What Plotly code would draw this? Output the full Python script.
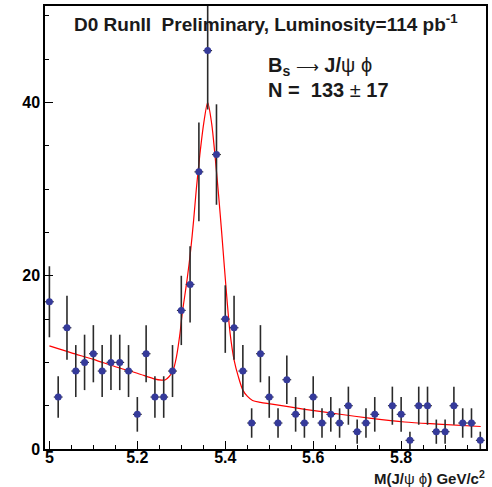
import plotly.graph_objects as go

# ---- data ----
mass = [5.00, 5.02, 5.04, 5.06, 5.08, 5.10, 5.12, 5.14, 5.16, 5.18,
        5.20, 5.22, 5.24, 5.26, 5.28, 5.30, 5.32, 5.34, 5.36, 5.38,
        5.40, 5.42, 5.44, 5.46, 5.48, 5.50, 5.52, 5.54, 5.56, 5.58,
        5.60, 5.62, 5.64, 5.66, 5.68, 5.70, 5.72, 5.74, 5.78, 5.80,
        5.82, 5.84, 5.86, 5.88, 5.90, 5.92, 5.94, 5.96, 5.98]
counts = [17, 6, 14, 9, 10, 11, 9, 10, 10, 9,
          4, 11, 6, 6, 9, 16, 19, 32, 46, 34,
          15, 14, 9, 3, 11, 6, 3, 8, 4, 3,
          6, 3, 4, 3, 5, 2, 3, 4, 5, 4,
          1, 5, 5, 2, 2, 5, 3, 3, 1]
errors = [4.1, 2.4, 3.7, 3.0, 3.2, 3.3, 3.0, 3.2, 3.2, 3.0,
          2.0, 3.3, 2.4, 2.4, 3.0, 4.0, 4.4, 5.7, 6.8, 5.8,
          3.9, 3.7, 3.0, 1.7, 3.3, 2.4, 1.7, 2.8, 2.0, 1.7,
          2.4, 1.7, 2.0, 1.7, 2.2, 1.4, 1.7, 2.0, 2.2, 2.0,
          1.0, 2.2, 2.2, 1.4, 1.4, 2.2, 1.7, 1.7, 1.0]
bin_half_width = [0.01] * len(mass)

# fit curve
fit_x = [5.000, 5.050, 5.100, 5.150, 5.200, 5.238, 5.255, 5.263, 5.272, 5.281,
         5.289, 5.297, 5.302, 5.313, 5.321, 5.328, 5.334, 5.342, 5.351, 5.360,
         5.369, 5.377, 5.385, 5.392, 5.398, 5.404, 5.411, 5.420, 5.430, 5.440,
         5.450, 5.462, 5.480, 5.506, 5.581, 5.657, 5.732, 5.808, 5.883, 5.981]
fit_y = [11.9, 11.1, 10.35, 9.5, 8.75, 8.1, 7.95, 7.97, 8.34, 9.04,
         10.65, 13.35, 15.6, 19.5, 22.8, 26.4, 29.9, 33.9, 37.6, 40.0,
         37.6, 33.7, 29.2, 24.9, 21.0, 17.2, 13.35, 10.3, 8.3, 6.8,
         6.1, 5.6, 5.38, 5.19, 4.58, 4.04, 3.54, 3.12, 2.88, 2.6]

x_ticks = [5.0, 5.2, 5.4, 5.6, 5.8]
x_ticktext = ["5", "5.2", "5.4", "5.6", "5.8"]
y_ticks = [0, 20, 40]
y_ticktext = ["0", "20", "40"]

FONT = "Liberation Sans, Arial, Helvetica, sans-serif"
W, H = 492, 487
L, R, T, B = 45, 4, 6, 38
PW, PH = W - L - R, H - T - B


def px(x):
    return (x - L) / PW


def py(y):
    return 1 - (y - T) / PH


fig = go.Figure()

fig.add_trace(go.Scatter(
    x=fit_x, y=fit_y, mode="lines",
    line=dict(color="#ff0000", width=1.2, shape="spline", smoothing=0.8),
    hoverinfo="skip", showlegend=False,
))

fig.add_trace(go.Scatter(
    x=mass, y=counts, mode="markers",
    marker=dict(color="#353a9a", size=7, symbol="circle"),
    error_y=dict(type="data", array=errors, visible=True, color="#2a2a2a",
                 thickness=1.6, width=0),
    error_x=dict(type="data", array=bin_half_width, visible=True, color="#2a2a2a",
                 thickness=1.2, width=0),
    showlegend=False,
))

axis_common = dict(
    showline=True, linecolor="black", linewidth=1.5, mirror=True,
    ticks="inside", tickcolor="black", tickwidth=1.2, ticklen=8,
    showgrid=False, zeroline=False,
    tickfont=dict(family=FONT, size=16, color="black", weight="bold"),
)

fig.update_xaxes(
    range=[4.99, 5.993], tickmode="array", tickvals=x_ticks, ticktext=x_ticktext,
    ticklabelstandoff=-7,
    minor=dict(ticks="inside", ticklen=4, tickcolor="black", tickwidth=1.2,
               tickmode="linear", tick0=5.0, dtick=0.05, showgrid=False),
    **axis_common,
)
fig.update_yaxes(
    range=[0, 51.15], tickmode="array", tickvals=y_ticks, ticktext=y_ticktext,
    minor=dict(ticks="inside", ticklen=4, tickcolor="black", tickwidth=1.2,
               tickmode="linear", tick0=0, dtick=5, showgrid=False),
    **axis_common,
)

ann_font = dict(family=FONT, color="#1a1a1a", weight="bold")
fig.add_annotation(
    x=px(72), y=py(23), xref="paper", yref="paper", xanchor="left", yanchor="middle",
    text="D0 RunII  Preliminary, Luminosity=114 pb<sup>-1</sup>",
    showarrow=False, font=dict(size=19, **ann_font),
)
fig.add_annotation(
    x=px(267), y=py(67), xref="paper", yref="paper", xanchor="left", yanchor="middle",
    text=("B<sub>s</sub> <span style='font-weight:normal;font-size:16px'>⟶</span> "
          "J/<span style='font-weight:normal'>ψ ϕ</span>"),
    showarrow=False, font=dict(size=20, **ann_font),
)
fig.add_annotation(
    x=px(267), y=py(90), xref="paper", yref="paper", xanchor="left", yanchor="middle",
    text="N =  133 <span style='font-weight:normal'>±</span> 17",
    showarrow=False, font=dict(size=20, **ann_font),
)
fig.add_annotation(
    x=px(489), y=py(477), xref="paper", yref="paper", xanchor="right", yanchor="middle",
    text="M(J/<span style='font-weight:normal'>ψ ϕ</span>) GeV/c<sup>2</sup>",
    showarrow=False, font=dict(size=15, **ann_font),
)

fig.update_layout(
    width=W, height=H,
    margin=dict(l=L, r=R, t=T, b=B, pad=0),
    paper_bgcolor="white", plot_bgcolor="white",
    font=dict(family=FONT, color="black"),
)

fig.write_html(
    "out.html",
    config={"displayModeBar": False},
    post_script="document.body.style.margin='0';document.body.style.padding='0';",
)
